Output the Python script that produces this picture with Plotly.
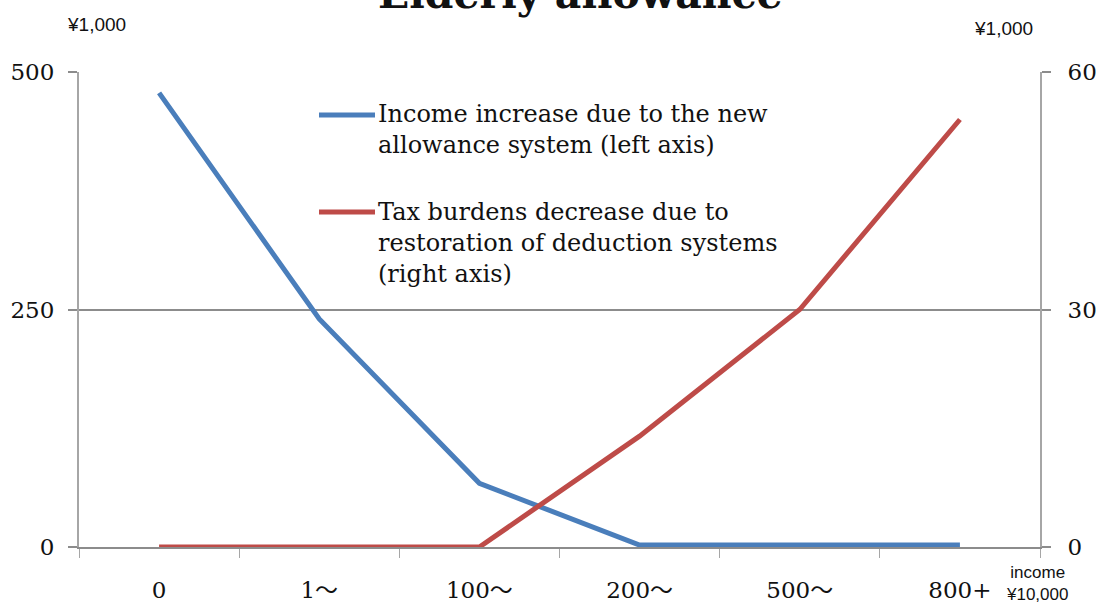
import plotly.graph_objects as go

# Income brackets (¥10,000)
categories = ["0", "1～", "100～", "200～", "500～", "800+"]
# Income increase due to the new allowance system (¥1,000, left axis)
income_increase = [478, 240, 67, 2, 2, 2]
# Tax burden decrease due to restoration of deduction systems (¥1,000, right axis)
tax_decrease = [0, 0, 0, 14, 30, 54]

BLUE = "#4A7EBB"
RED = "#BE4B48"
GRID = "#8C8C8C"
AXIS = "#A6A6A6"
SERIF = "DejaVu Serif, Noto Sans CJK JP"
SANS = "Liberation Sans Narrow, Liberation Sans, Arial"

W, H = 1096, 606
L, R, T, B = 79, 56, 72, 59
PW, PH = W - L - R, H - T - B

fig = go.Figure()
fig.add_trace(go.Scatter(
    x=categories, y=income_increase, mode="lines",
    line=dict(color=BLUE, width=5), yaxis="y", showlegend=False,
    name="Income increase due to the new allowance system (left axis)"))
fig.add_trace(go.Scatter(
    x=categories, y=tax_decrease, mode="lines",
    line=dict(color=RED, width=5), yaxis="y2", showlegend=False,
    name="Tax burdens decrease due to restoration of deduction systems (right axis)"))


def px_x(x):
    return (x - L) / PW


def px_y(y):
    return 1 - (y - T) / PH


TICKFONT = dict(family=SERIF, size=23, color="#111")

fig.update_layout(
    width=W, height=H,
    margin=dict(l=L, r=R, t=T, b=B),
    plot_bgcolor="white", paper_bgcolor="white",
    xaxis=dict(
        type="category", range=[-0.5, 5.5], automargin=False,
        showgrid=False, showline=True, linecolor=GRID, linewidth=2,
        ticks="outside", tickson="boundaries", ticklen=9, tickcolor=AXIS, tickwidth=1,
        tickfont=TICKFONT, ticklabelstandoff=21,
        zeroline=False,
    ),
    yaxis=dict(
        range=[0, 500], tickvals=[0, 250, 500], automargin=False,
        showgrid=True, gridcolor=GRID, gridwidth=2,
        showline=True, linecolor=AXIS, linewidth=2,
        ticks="outside", ticklen=9, tickcolor=GRID, tickwidth=2,
        tickfont=TICKFONT, ticklabelstandoff=9,
        zeroline=False,
    ),
    yaxis2=dict(
        range=[0, 60], tickvals=[0, 30, 60], overlaying="y", side="right",
        automargin=False,
        showgrid=False, showline=True, linecolor=AXIS, linewidth=2,
        ticks="outside", ticklen=9, tickcolor=GRID, tickwidth=2,
        tickfont=TICKFONT, ticklabelstandoff=12,
        zeroline=False,
    ),
)

LEGEND_FONT = dict(family=SERIF, size=24, color="#111")
annotations = [
    dict(text="<b>Elderly allowance</b>", x=px_x(580), y=px_y(20), xanchor="center",
         yanchor="bottom", font=dict(family=SERIF, size=41, color="#111")),
    dict(text="¥1,000", x=px_x(96), y=px_y(25), xanchor="center", yanchor="middle",
         font=dict(family=SANS, size=19, color="#111")),
    dict(text="¥1,000", x=px_x(1003), y=px_y(29), xanchor="center", yanchor="middle",
         font=dict(family=SANS, size=19, color="#111")),
    dict(text="income<br>¥10,000", x=px_x(1037), y=px_y(583), xanchor="center",
         yanchor="middle", font=dict(family=SANS, size=17, color="#111"), align="center"),
    dict(text="Income increase due to the new<br>allowance system (left axis)",
         x=px_x(376), y=px_y(98), xanchor="left", yanchor="top", align="left",
         font=LEGEND_FONT),
    dict(text="Tax burdens decrease due to<br>restoration of deduction systems<br>(right axis)",
         x=px_x(376), y=px_y(196), xanchor="left", yanchor="top", align="left",
         font=LEGEND_FONT),
]
for a in annotations:
    a.update(xref="paper", yref="paper", showarrow=False)
fig.update_layout(annotations=annotations)

# Legend swatches
for yy, col in [(115, BLUE), (212, RED)]:
    fig.add_shape(type="line", xref="paper", yref="paper",
                  x0=px_x(319), x1=px_x(375), y0=px_y(yy), y1=px_y(yy),
                  line=dict(color=col, width=5))

fig.write_html("out.html")
